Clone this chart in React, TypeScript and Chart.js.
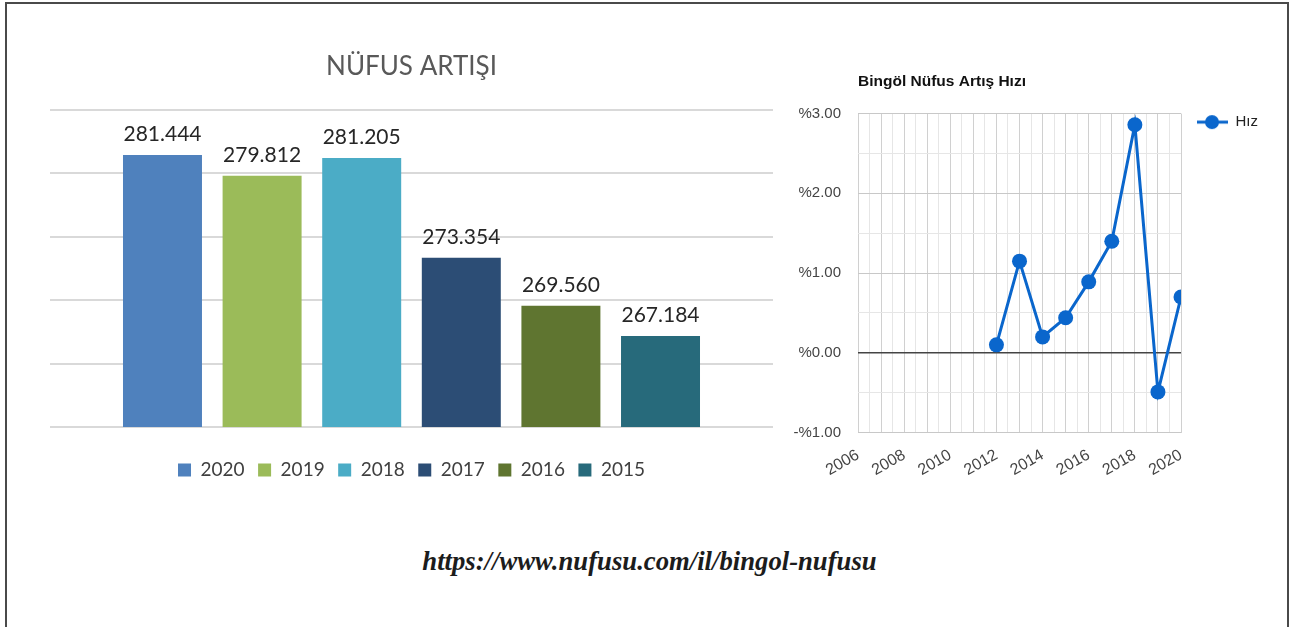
import React, { useEffect, useRef } from 'react';
import { Chart, registerables } from 'chart.js';

Chart.register(...registerables);

// ---- Bar chart data ----
const barTitle = 'NÜFUS ARTIŞI';
const barYears = ['2020', '2019', '2018', '2017', '2016', '2015'];
const barValues = [281444, 279812, 281205, 273354, 269560, 267184];
const barColors = ['#4F81BD', '#9BBB59', '#4BACC6', '#2C4D75', '#5F7530', '#276A7B'];
const barAxisMin = 260000;
const barAxisMax = 285000;
const barAxisStep = 5000;

// ---- Line chart data ----
const lineTitle = 'Bingöl Nüfus Artış Hızı';
const lineSeriesName = 'Hız';
const rateYears = [2012, 2013, 2014, 2015, 2016, 2017, 2018, 2019, 2020];
const rateValues = [0.1, 1.15, 0.2, 0.44, 0.89, 1.4, 2.86, -0.49, 0.7];
const xAxisMin = 2006;
const xAxisMax = 2020;
const yAxisMin = -1;
const yAxisMax = 3;
const lineColor = '#0a66cc';

const sourceUrl = 'https://www.nufusu.com/il/bingol-nufusu';

function formatTr(n: number) {
  return String(n).replace(/\B(?=(\d{3})+(?!\d))/g, '.');
}
function formatPct(v: number) {
  return (v < 0 ? '-%' : '%') + Math.abs(v).toFixed(2);
}

function BarChart() {
  const ref = useRef<HTMLCanvasElement>(null);
  useEffect(() => {
    const valueLabels = {
      id: 'valueLabels',
      afterDatasetsDraw(chart: any) {
        const ctx = chart.ctx;
        ctx.save();
        ctx.font = '21px Lato';
        ctx.fillStyle = '#262626';
        ctx.textAlign = 'center';
        ctx.textBaseline = 'alphabetic';
        chart.data.datasets.forEach((ds: any, i: number) => {
          const meta = chart.getDatasetMeta(i);
          meta.data.forEach((el: any, j: number) => {
            ctx.fillText(formatTr(ds.data[j]), el.x, el.y - 14);
          });
        });
        ctx.restore();
      },
    };
    const chart = new Chart(ref.current as HTMLCanvasElement, {
      type: 'bar',
      data: {
        labels: [''],
        datasets: barYears.map((y, i) => ({
          label: y,
          data: [barValues[i]],
          backgroundColor: barColors[i],
          borderWidth: 0,
          categoryPercentage: 0.8266,
          barPercentage: 0.793,
        })),
      },
      options: {
        responsive: false,
        animation: false,
        layout: { padding: { left: 50, right: 17, top: 0, bottom: 10.5 } },
        plugins: {
          title: {
            display: true,
            text: barTitle,
            color: '#595959',
            font: { family: 'Lato', size: 26, weight: 'normal' },
            padding: { top: 51.4, bottom: 27.4 },
          },
          legend: {
            position: 'bottom',
            labels: {
              boxWidth: 13,
              boxHeight: 13,
              padding: 13.5,
              color: '#404040',
              font: { family: 'Lato', size: 19 },
            },
          },
          tooltip: { enabled: false },
        },
        scales: {
          x: {
            ticks: { display: false },
            grid: { display: false, drawTicks: true, tickLength: 20 },
            border: { display: false },
          },
          y: {
            min: barAxisMin,
            max: barAxisMax,
            ticks: { display: false, stepSize: barAxisStep },
            grid: { color: '#d9d9d9', lineWidth: 2, drawTicks: false },
            border: { display: false },
          },
        },
      } as any,
      plugins: [valueLabels],
    });
    return () => chart.destroy();
  }, []);
  return (
    <canvas
      ref={ref}
      width={790}
      height={500}
      style={{ position: 'absolute', left: 0, top: 0, width: 790, height: 500 }}
    />
  );
}

function makeLegendIcon() {
  const c = document.createElement('canvas');
  c.width = 46;
  c.height = 16;
  const g = c.getContext('2d') as CanvasRenderingContext2D;
  g.strokeStyle = lineColor;
  g.lineWidth = 3;
  g.beginPath();
  g.moveTo(15, 8);
  g.lineTo(46, 8);
  g.stroke();
  g.fillStyle = lineColor;
  g.beginPath();
  g.arc(30, 8, 7, 0, Math.PI * 2);
  g.fill();
  return c;
}

function RateChart() {
  const ref = useRef<HTMLCanvasElement>(null);
  useEffect(() => {
    const icon = makeLegendIcon();
    const font = { family: '"Liberation Sans", Arial', size: 15 };
    const xFont = { family: '"Liberation Sans", Arial', size: 16 };
    const chart = new Chart(ref.current as HTMLCanvasElement, {
      type: 'line',
      data: {
        datasets: [
          {
            label: lineSeriesName,
            data: rateYears.map((x, i) => ({ x, y: rateValues[i] })),
            borderColor: lineColor,
            backgroundColor: lineColor,
            borderWidth: 3,
            pointRadius: 7.5,
            pointBackgroundColor: lineColor,
            pointBorderWidth: 0,
            tension: 0,
          },
        ],
      },
      options: {
        responsive: false,
        animation: false,
        layout: { padding: { left: 13.5, right: 12, top: 0, bottom: 4 } },
        plugins: {
          title: {
            display: true,
            text: lineTitle,
            align: 'start',
            fullSize: false,
            color: '#111',
            font: { family: '"Liberation Sans", Arial', size: 15.5, weight: 'bold' },
            padding: { top: 17, bottom: 23 },
          },
          legend: {
            position: 'right',
            align: 'start',
            fullSize: false,
            labels: {
              usePointStyle: true,
              pointStyleWidth: 46,
              padding: 1,
              color: '#222',
              font,
              generateLabels: (ch: any) => {
                const items = (Chart.defaults.plugins.legend.labels as any).generateLabels(ch);
                items.forEach((it: any) => {
                  it.pointStyle = icon;
                });
                return items;
              },
            },
          },
          tooltip: { enabled: false },
        },
        scales: {
          x: {
            type: 'linear',
            min: xAxisMin,
            max: xAxisMax,
            ticks: {
              stepSize: 0.5,
              autoSkip: false,
              maxRotation: 30,
              minRotation: 30,
              padding: 13,
              color: '#444',
              font: xFont,
              callback: (v: any) => (v % 2 === 0 ? String(v) : ''),
            },
            grid: {
              color: (c: any) => (Number.isInteger(c.tick.value) ? '#d0d0d0' : '#e6e6e6'),
              lineWidth: 1,
              drawTicks: false,
            },
            border: { display: false },
          },
          y: {
            min: yAxisMin,
            max: yAxisMax,
            ticks: {
              stepSize: 0.5,
              autoSkip: false,
              padding: 17,
              color: '#444',
              font,
              callback: (v: any) => (Number.isInteger(v) ? formatPct(v) : ''),
            },
            grid: {
              color: (c: any) =>
                c.tick.value === 0 ? '#444' : Number.isInteger(c.tick.value) ? '#c8c8c8' : '#e6e6e6',
              lineWidth: (c: any) => (c.tick.value === 0 ? 1.5 : 1),
              drawTicks: false,
            },
            border: { display: false },
          },
        },
      } as any,
    });
    return () => chart.destroy();
  }, []);
  return (
    <canvas
      ref={ref}
      width={517}
      height={442}
      style={{ position: 'absolute', left: 763, top: 55, width: 517, height: 442 }}
    />
  );
}

export default function App() {
  return (
    <div
      style={{
        position: 'absolute',
        left: 0,
        top: 0,
        width: 1293,
        height: 627,
        overflow: 'hidden',
        background: '#fff',
      }}
    >
      <div
        style={{
          position: 'absolute',
          left: 5,
          top: 2,
          width: 1280,
          height: 700,
          border: '2px solid #4a4a4a',
        }}
      />
      <BarChart />
      <RateChart />
      <div
        style={{
          position: 'absolute',
          left: 3,
          top: 546,
          width: 1293,
          textAlign: 'center',
          fontFamily: '"Liberation Serif", "Times New Roman", serif',
          fontStyle: 'italic',
          fontWeight: 'bold',
          fontSize: 26.7,
          lineHeight: '30px',
          color: '#1c1c1c',
        }}
      >
        {sourceUrl}
      </div>
    </div>
  );
}
